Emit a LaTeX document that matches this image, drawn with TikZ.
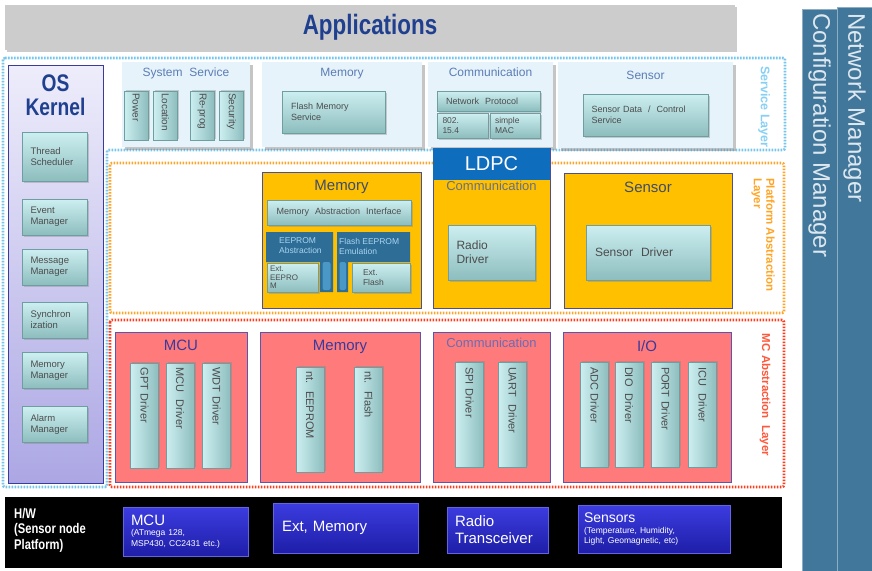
\documentclass[tikz,border=0pt]{standalone}
\usepackage{fontspec}
\setmainfont{Liberation Sans}
\usepackage{graphicx}
\usetikzlibrary{positioning, shadows}
\definecolor{appgrey}{HTML}{CCCCCC}
\definecolor{appblue}{HTML}{1F3F8F}
\definecolor{mgrblue}{HTML}{41779A}
\definecolor{mgrtxt}{HTML}{DDE7EF}
\definecolor{svcfill}{HTML}{E6F3FB}
\definecolor{svctext}{HTML}{5B7DB5}
\definecolor{tealtop}{HTML}{CDEFF1}
\definecolor{tealbot}{HTML}{8DBDBE}
\definecolor{tealedge}{HTML}{6E9E9F}
\definecolor{kertop}{HTML}{EEEDFB}
\definecolor{kerbot}{HTML}{ACA7E4}
\definecolor{keredge}{HTML}{3B3B9B}
\definecolor{platfill}{HTML}{FFC000}
\definecolor{platedge}{HTML}{4B4E9A}
\definecolor{plattext}{HTML}{3E4C6B}
\definecolor{panelblue}{HTML}{2E6D95}
\definecolor{panellight}{HTML}{4A98C6}
\definecolor{paneltext}{HTML}{A9D4F2}
\definecolor{ldpcblue}{HTML}{0F6DBE}
\definecolor{mcfill}{HTML}{FF7B7B}
\definecolor{mcedge}{HTML}{5A55B0}
\definecolor{mctext}{HTML}{3A3A9C}
\definecolor{hwtop}{HTML}{3C3CE0}
\definecolor{hwbot}{HTML}{1E1EA8}
\definecolor{svcline}{HTML}{72C8F2}
\definecolor{platline}{HTML}{FFA424}
\definecolor{mcline}{HTML}{FF3B1A}
\newcommand{\narrowtxt}[1]{\scalebox{0.8}[1]{#1}}
\tikzset{
  box/.style={anchor=north west, inner sep=0pt, outer sep=0pt},
  appbar/.style={box, minimum width=730pt, minimum height=45pt, fill=appgrey,
    text=appblue, font=\fontsize{28}{30}\selectfont\bfseries,
    drop shadow={shadow xshift=2pt, shadow yshift=-2pt, opacity=.4}},
  mgrbar/.style={box, minimum width=35pt, fill=mgrblue, draw=mgrblue!60!white, line width=.5pt},
  mgrtext/.style={rotate=-90, text=mgrtxt, font=\fontsize{24}{26}\selectfont, inner sep=0pt},
  frame/.style={line width=2.6pt, dash pattern=on 1.5pt off 1.5pt, rounded corners=2pt},
  svcframe/.style={frame, draw=svcline, preaction={draw=black!30, solid}},
  platframe/.style={frame, draw=platline, preaction={draw=platline!25, solid}},
  mcframe/.style={frame, draw=mcline, preaction={draw=mcline!25, solid}},
  layerlabel/.style={rotate=-90, font=\fontsize{11.5}{12.5}\selectfont\bfseries, align=left, inner sep=0pt},
  kernel/.style={box, minimum width=95pt, minimum height=418pt, draw=keredge, line width=1pt,
    top color=kertop, bottom color=kerbot},
  kertitle/.style={text=appblue, font=\fontsize{24}{24}\selectfont\bfseries, align=center, inner sep=0pt},
  tealbox/.style={draw=tealedge, line width=.4pt, top color=tealtop, bottom color=tealbot,
    text=black!70, drop shadow={shadow xshift=1.5pt, shadow yshift=-1.5pt, opacity=.35}},
  ksub/.style={tealbox, minimum width=65pt, minimum height=36pt, text width=48pt, align=left,
    inner sep=2pt, font=\fontsize{9.5}{11}\selectfont},
  svcbox/.style={box, minimum height=85pt, fill=svcfill,
    drop shadow={shadow xshift=2.5pt, shadow yshift=-2.5pt, opacity=.45}},
  svctitle/.style={text=svctext, font=\fontsize{12}{14}\selectfont, inner sep=1pt},
  subbox/.style={tealbox, align=left, inner sep=3pt, font=\fontsize{9}{10.5}\selectfont},
  vbox/.style={draw=tealedge, line width=.4pt, left color=tealtop, right color=tealbot,
    text=black!70, rotate=-90, align=left,
    drop shadow={shadow xshift=1.5pt, shadow yshift=1.5pt, opacity=.35}},
  vsvc/.style={vbox, minimum width=49pt, minimum height=24pt, text width=45pt, inner sep=2pt,
    font=\fontsize{10}{11}\selectfont},
  vdrv/.style={vbox, minimum width=105pt, minimum height=28pt, text width=96pt, inner sep=4pt,
    font=\fontsize{11}{12}\selectfont},
  platbox/.style={box, fill=platfill, draw=platedge, line width=1pt},
  plattitle/.style={text=plattext, font=\fontsize{15}{17}\selectfont, inner sep=0pt},
  paneltxt/.style={text=paneltext, font=\fontsize{8.5}{10}\selectfont, align=left, inner sep=0pt, anchor=west},
  mcbox/.style={box, minimum height=150pt, fill=mcfill, draw=mcedge, line width=1pt},
  mctitle/.style={text=mctext, font=\fontsize{15}{17}\selectfont, inner sep=0pt},
  hwbox/.style={box, draw=hwtop!80!white, top color=hwtop, bottom color=hwbot, text=white,
    align=left, inner sep=9pt, font=\fontsize{9.5}{10.5}\selectfont},
}
\begin{document}
\begin{tikzpicture}[x=1pt, y=-1pt]
  \useasboundingbox[fill=white] (0,0) rectangle (872,570);
  % layer frames
  \draw[svcframe] (3,58) -- (785,58) -- (785,150) -- (107,150) -- (107,487) -- (3,487) -- cycle;
  \draw[platframe] (110,163) rectangle (784,313);
  \draw[mcframe] (110,320) rectangle (784,487);
  \node[layerlabel, text=svcline!85!white, font=\fontsize{12.5}{13}\selectfont\bfseries] (svclbl) at (764,107) {Service Layer};
  \node[layerlabel, text=platline] (platlbl) at (763,235) {Platform Abstraction\\Layer};
  \node[layerlabel, text=mcline!85!white] (mclbl) at (765,395) {MC Abstraction\ \ Layer};

  % applications and managers
  \node[appbar] (apps) at (5,5) {\narrowtxt{Applications}};
  \node[mgrbar, minimum height=562pt] (cfgmgr) at (802,9) {};
  \node[mgrbar, minimum height=564pt] (netmgr) at (837,7) {};
  \node[mgrtext, anchor=west] (cfgtxt) at ([yshift=-4pt]cfgmgr.north) {Configuration Manager};
  \node[mgrtext, anchor=west] (nettxt) at ([yshift=-6pt]netmgr.north) {Network Manager};

  % OS kernel
  \node[kernel] (kernel) at (8,65) {};
  \node[kertitle, below=10pt of kernel.north] (kertitle) {\narrowtxt{OS}\\\narrowtxt{Kernel}};
  \node[ksub, minimum height=49pt] (sched) at (54.5,156.5) {Thread\\Scheduler};
  \node[ksub] (event) at (54.5,217) {Event\\Manager};
  \node[ksub] (msg) at (54.5,267) {Message\\Manager};
  \node[ksub] (sync) at (54.5,320) {Synchron\\ization};
  \node[ksub] (memmgr) at (54.5,370.5) {Memory\\Manager};
  \node[ksub] (alarm) at (54.5,424.5) {Alarm\\Manager};

  % service layer
  \node[svcbox, minimum width=128pt] (syssvc) at (122,62) {};
  \node[svctitle, below=5pt of syssvc.north] (syssvctitle) {System\ \ Service};
  \node[vsvc] (power) at (136,115.5) {Power};
  \node[vsvc] (location) at (165.5,115.5) {Location};
  \node[vsvc] (reprog) at (202,115.5) {Re-prog};
  \node[vsvc] (security) at (231.5,115.5) {Security};
  \node[svcbox, minimum width=160pt] (memsvc) at (262,62) {};
  \node[svctitle, below=5pt of memsvc.north] (memsvctitle) {Memory};
  \node[subbox, minimum width=103pt, minimum height=42pt, text width=85pt] (flashsvc) at (333.5,112) {Flash Memory\\Service};
  \node[svcbox, minimum width=125pt] (comsvc) at (428,62) {};
  \node[svctitle, below=5pt of comsvc.north] (comsvctitle) {Communication};
  \node[subbox, minimum width=103pt, minimum height=20pt, text width=85pt, inner sep=1pt] (netproto) at (488.5,101) {Network\ \ Protocol};
  \node[subbox, minimum width=51pt, minimum height=25pt, text width=40pt, inner sep=1pt, font=\fontsize{8.5}{9.5}\selectfont] (ieee) at (462.5,125.5) {802.\\15.4};
  \node[subbox, minimum width=50pt, minimum height=25pt, text width=40pt, inner sep=1pt, font=\fontsize{8.5}{9.5}\selectfont] (smac) at (515,125.5) {simple\\MAC};
  \node[svcbox, minimum width=175pt, minimum height=86pt] (snssvc) at (558,62) {};
  \node[svctitle, below=8pt of snssvc.north] (snssvctitle) {Sensor};
  \node[subbox, minimum width=125pt, minimum height=42pt, text width=108pt] (snsdata) at (645.5,115) {Sensor Data\ \ /\ \ Control\\Service};

  % platform abstraction layer
  \node[platbox, minimum width=159pt, minimum height=136pt] (platmem) at (262,172) {};
  \node[plattitle, below=8pt of platmem.north] (platmemtitle) {Memory};
  \node[subbox, minimum width=144pt, minimum height=25pt, align=center, text width=135pt] (mai) at (339,212.5) {Memory\ \ Abstraction\ \ Interface};
  \fill[panelblue] (266,232) -- (333,232) -- (333,292) -- (320,292) -- (320,262) -- (266,262) -- cycle;
  \fill[panelblue] (337,232) -- (410,232) -- (410,262) -- (348,262) -- (348,292) -- (337,292) -- cycle;
  \fill[panellight, rounded corners=2pt] (322.5,262) rectangle (330.5,290);
  \fill[panellight, rounded corners=2pt] (339.5,262) rectangle (346,290);
  \node[paneltxt] (eepabs) at (279,246) {EEPROM\\Abstraction};
  \node[paneltxt] (flashemu) at (339,246) {Flash EEPROM\\Emulation};
  \node[subbox, minimum width=51pt, minimum height=29pt, text width=45pt, inner sep=1pt, font=\fontsize{8}{8.5}\selectfont] (exteep) at (292.5,277.5) {Ext.\\EEPRO\\M};
  \node[subbox, minimum width=58pt, minimum height=29pt, text width=36pt, inner sep=1pt, font=\fontsize{8.5}{9.5}\selectfont] (extflash) at (381,277.5) {Ext.\\Flash};
  \node[platbox, minimum width=117pt, minimum height=160pt] (platcom) at (433,148) {};
  \node[box, fill=ldpcblue, minimum width=117pt, minimum height=32pt, text=white, font=\fontsize{20}{22}\selectfont] (ldpc) at (433,148) {LDPC};
  \node[plattitle, text=plattext!80, font=\fontsize{13}{15}\selectfont, below=1pt of ldpc.south] (platcomtitle) {Communication};
  \node[subbox, minimum width=87pt, minimum height=55pt, text width=70pt, font=\fontsize{12}{14}\selectfont] (radio) at (491.5,252.5) {Radio\\Driver};
  \node[platbox, minimum width=168pt, minimum height=135pt] (platsns) at (564,173) {};
  \node[plattitle, below=9pt of platsns.north] (platsnstitle) {Sensor};
  \node[subbox, minimum width=124pt, minimum height=55pt, text width=106pt, font=\fontsize{12}{14}\selectfont] (snsdrv) at (648,252.5) {Sensor\ \ Driver};

  % MC abstraction layer
  \node[mcbox, minimum width=132pt] (mcu) at (115,332) {};
  \node[mctitle, below=8pt of mcu.north] (mcutitle) {MCU};
  \node[vdrv] (gpt) at (144.5,415.5) {GPT Driver};
  \node[vdrv] (mcudrv) at (180,415.5) {MCU\ \ Driver};
  \node[vdrv] (wdt) at (216.5,415.5) {WDT Driver};
  \node[mcbox, minimum width=160pt] (mcmem) at (260,332) {};
  \node[mctitle, below=8pt of mcmem.north] (mcmemtitle) {Memory};
  \node[vdrv] (inteep) at (310,419.5) {nt.\ \ EEPROM};
  \node[vdrv] (intflash) at (368.5,419.5) {nt.\ \ Flash};
  \node[mcbox, minimum width=117pt] (mccom) at (433,332) {};
  \node[mctitle, text=mctext!75, font=\fontsize{13}{15}\selectfont, below=6pt of mccom.north] (mccomtitle) {Communication};
  \node[vdrv] (spi) at (469.5,415) {SPI Driver};
  \node[vdrv] (uart) at (512.5,415) {UART\ \ Driver};
  \node[mcbox, minimum width=168pt] (mcio) at (563,332) {};
  \node[mctitle, below=8pt of mcio.north] (mciotitle) {I/O};
  \node[vdrv] (adc) at (594.5,415) {ADC Driver};
  \node[vdrv] (dio) at (629,415) {DIO\ \ Driver};
  \node[vdrv] (port) at (665.5,415) {PORT Driver};
  \node[vdrv] (icu) at (702.5,415) {ICU\ \ Driver};

  % hardware
  \node[box, fill=black, minimum width=777pt, minimum height=71pt] (hw) at (5,497) {};
  \node[anchor=west, text=white, align=left, inner sep=0pt, font=\fontsize{14}{15.5}\selectfont\bfseries] (hwlbl) at (14,530) {\narrowtxt{H/W}\\\narrowtxt{(Sensor node}\\\narrowtxt{Platform)}};
  \node[hwbox, minimum width=125pt, minimum height=46pt, text width=109pt, inner sep=8pt] (hwmcu) at (123,507) {{\fontsize{15}{15}\selectfont MCU}\\{\fontsize{8.5}{9.5}\selectfont (ATmega 128,}\\{\fontsize{8.5}{9.5}\selectfont MSP430, CC2431 etc.)}};
  \node[hwbox, minimum width=145pt, minimum height=50pt, text width=127pt, font=\fontsize{15}{17}\selectfont] (hwmem) at (273,503) {Ext, Memory};
  \node[hwbox, minimum width=101pt, minimum height=46pt, text width=85pt, inner sep=8pt, font=\fontsize{15}{17}\selectfont] (hwradio) at (447,507) {Radio\\Transceiver};
  \node[hwbox, minimum width=152pt, minimum height=48pt, text width=140pt, inner sep=6pt] (hwsns) at (578,505) {{\fontsize{14}{14}\selectfont Sensors}\\{\fontsize{8.5}{9.5}\selectfont (Temperature, Humidity,}\\{\fontsize{8.5}{9.5}\selectfont Light, Geomagnetic, etc)}};
\end{tikzpicture}
\end{document}
